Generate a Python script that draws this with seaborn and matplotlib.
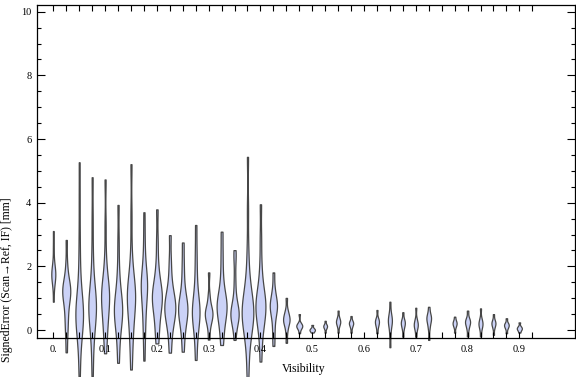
import numpy as np
import pandas as pd
import seaborn as sns
import matplotlib.pyplot as plt
from matplotlib.ticker import FixedLocator

# Visibility bins (0.6 and 0.75 have no data)
visibility = [0.0, 0.025, 0.05, 0.075, 0.1, 0.125, 0.15, 0.175, 0.2, 0.225, 0.25, 0.275,
              0.3, 0.325, 0.35, 0.375, 0.4, 0.425, 0.45, 0.475, 0.5, 0.525, 0.55, 0.575,
              0.625, 0.65, 0.675, 0.7, 0.725, 0.775, 0.8, 0.825, 0.85, 0.875, 0.9]

# signed error samples [mm] per visibility bin
e_000 = [0.89, 1.35, 1.55, 1.65, 1.72, 1.78, 1.84, 1.95, 2.15, 2.6, 3.11]
e_025 = [-0.70, -0.15, 0.15, 0.4, 0.65, 0.85, 1.0, 1.1, 1.2, 1.25, 1.3, 1.4, 1.5, 1.7, 2.1, 2.83]
e_050 = [-1.47, -0.8, -0.3, -0.05, 0.1, 0.25, 0.35, 0.45, 0.5, 0.6, 0.7, 0.8, 0.95, 1.2, 1.6, 2.2, 3.0, 4.1, 5.27]
e_075 = [-1.45, -0.7, -0.2, 0.1, 0.3, 0.45, 0.6, 0.7, 0.8, 0.9, 1.0, 1.15, 1.4, 1.8, 2.5, 3.5, 4.80]
e_100 = [-0.73, -0.3, 0.0, 0.25, 0.45, 0.65, 0.8, 0.95, 1.05, 1.15, 1.25, 1.35, 1.5, 1.8, 2.3, 3.3, 4.73]
e_125 = [-1.03, -0.5, -0.1, 0.15, 0.3, 0.45, 0.55, 0.65, 0.75, 0.85, 1.0, 1.2, 1.5, 2.0, 2.8, 3.93]
e_150 = [-1.24, -0.6, -0.2, 0.15, 0.4, 0.6, 0.8, 0.95, 1.05, 1.15, 1.25, 1.35, 1.5, 1.8, 2.4, 3.6, 5.21]
e_175 = [-0.96, -0.3, 0.1, 0.45, 0.75, 0.95, 1.15, 1.3, 1.4, 1.5, 1.6, 1.75, 2.0, 2.4, 3.0, 3.70]
e_200 = [-0.42, -0.1, 0.2, 0.45, 0.65, 0.8, 0.9, 1.0, 1.1, 1.2, 1.3, 1.45, 1.7, 2.1, 2.8, 3.79]
e_225 = [-0.71, -0.25, 0.05, 0.25, 0.4, 0.5, 0.6, 0.7, 0.8, 0.9, 1.0, 1.15, 1.35, 1.7, 2.2, 2.98]
e_250 = [-0.68, -0.2, 0.1, 0.3, 0.45, 0.55, 0.65, 0.75, 0.85, 1.0, 1.2, 1.6, 2.1, 2.75]
e_275 = [-0.94, -0.35, 0.0, 0.25, 0.4, 0.5, 0.6, 0.7, 0.85, 1.05, 1.4, 1.9, 2.5, 3.30]
e_300 = [-0.30, 0.1, 0.28, 0.4, 0.47, 0.52, 0.57, 0.65, 0.8, 1.1, 1.81]
e_325 = [-0.47, -0.1, 0.2, 0.4, 0.55, 0.65, 0.75, 0.85, 0.95, 1.1, 1.35, 1.8, 2.4, 3.09]
e_350 = [-0.31, 0.1, 0.3, 0.4, 0.47, 0.52, 0.57, 0.65, 0.8, 1.1, 1.6, 2.25, 2.51]
e_375 = [-1.52, -0.9, -0.4, -0.15, 0.05, 0.2, 0.3, 0.4, 0.5, 0.55, 0.6, 0.7, 0.8, 0.9, 1.05, 1.25, 1.5, 1.9, 2.6, 3.8, 5.44]
e_400 = [-0.99, -0.4, 0.0, 0.2, 0.35, 0.5, 0.6, 0.7, 0.8, 0.9, 1.0, 1.1, 1.3, 1.6, 2.1, 2.9, 3.95]
e_425 = [-0.50, -0.1, 0.25, 0.5, 0.65, 0.72, 0.8, 0.9, 1.05, 1.3, 1.81]
e_450 = [-0.40, -0.05, 0.15, 0.25, 0.3, 0.34, 0.4, 0.5, 0.62, 1.01]
e_475 = [-0.10, 0.04, 0.09, 0.12, 0.14, 0.17, 0.22, 0.50]
e_500 = [-0.08, -0.04, -0.01, 0.01, 0.03, 0.07, 0.16]
e_525 = [-0.08, 0.04, 0.09, 0.12, 0.14, 0.18, 0.29]
e_550 = [-0.08, 0.1, 0.18, 0.23, 0.26, 0.29, 0.34, 0.42, 0.61]
e_575 = [-0.08, 0.07, 0.15, 0.19, 0.22, 0.25, 0.3, 0.44]
e_625 = [-0.10, 0.08, 0.17, 0.23, 0.27, 0.31, 0.38, 0.63]
e_650 = [-0.54, -0.15, 0.1, 0.22, 0.28, 0.33, 0.4, 0.55, 0.89]
e_675 = [-0.21, 0.02, 0.13, 0.19, 0.23, 0.28, 0.35, 0.56]
e_700 = [-0.21, 0.0, 0.1, 0.15, 0.19, 0.25, 0.36, 0.70]
e_725 = [-0.31, 0.05, 0.22, 0.32, 0.37, 0.42, 0.5, 0.73]
e_775 = [-0.08, 0.08, 0.15, 0.19, 0.22, 0.26, 0.31, 0.42]
e_800 = [-0.20, 0.03, 0.15, 0.22, 0.26, 0.3, 0.38, 0.61]
e_825 = [-0.20, 0.02, 0.12, 0.18, 0.22, 0.27, 0.38, 0.68]
e_850 = [-0.15, 0.05, 0.14, 0.19, 0.22, 0.26, 0.33, 0.50]
e_875 = [-0.10, 0.05, 0.11, 0.15, 0.18, 0.22, 0.37]
e_900 = [-0.08, -0.01, 0.03, 0.05, 0.08, 0.12, 0.24]

signed_error = [e_000, e_025, e_050, e_075, e_100, e_125, e_150, e_175, e_200, e_225,
                e_250, e_275, e_300, e_325, e_350, e_375, e_400, e_425, e_450, e_475,
                e_500, e_525, e_550, e_575, e_625, e_650, e_675, e_700, e_725, e_775,
                e_800, e_825, e_850, e_875, e_900]

# relative violin width (fraction of bin spacing), as seen in the chart
rel_width = [0.31, 0.62, 0.59, 0.59, 0.62, 0.64, 0.64, 0.49, 0.77, 0.85, 0.72, 0.59,
             0.59, 0.77, 0.64, 0.90, 0.77, 0.56, 0.50, 0.46, 0.42, 0.29, 0.33, 0.33,
             0.31, 0.31, 0.31, 0.31, 0.36, 0.31, 0.39, 0.31, 0.31, 0.36, 0.39]

xtick_labels = ["0.", "0.1", "0.2", "0.3", "0.4", "0.5", "0.6", "0.7", "0.8", "0.9"]

# long-form table
df = pd.DataFrame({
    "Visibility": np.repeat(visibility, [len(s) for s in signed_error]),
    "SignedError": np.concatenate(signed_error),
})

plt.rcParams["font.family"] = ["Liberation Serif", "DejaVu Serif"]

fig = plt.figure(figsize=(5.76, 3.77), dpi=100)
ax = fig.add_axes([37 / 576, 39 / 377, 538 / 576, 333 / 377])

spacing = 0.025
for v, w in zip(visibility, rel_width):
    sns.violinplot(data=df[df["Visibility"] == v], x="Visibility", y="SignedError",
                   native_scale=True, density_norm="width", width=w * spacing,
                   cut=0, bw_adjust=0.6, inner=None, color="#cbd2f7", saturation=1,
                   linecolor="#474747", linewidth=0.9, ax=ax)

# violins hang below the frame in the original
for c in ax.collections:
    c.set_clip_on(False)

ax.set_xlim(-0.0315, 1.0075)
ax.set_ylim(-0.25, 10.21)

ax.xaxis.set_major_locator(FixedLocator(np.arange(0, 0.95, 0.1)))
ax.xaxis.set_minor_locator(FixedLocator(np.arange(0, 0.93, 0.025)))
ax.set_xticklabels(xtick_labels)
ax.yaxis.set_major_locator(FixedLocator(np.arange(0, 10.5, 2)))
ax.yaxis.set_minor_locator(FixedLocator(np.arange(0, 10.3, 0.5)))
ax.set_yticklabels(["0", "2", "4", "6", "8", "10"])

ax.tick_params(which="both", direction="in", top=True, right=True, width=0.8, colors="black",
               labelsize=7.5)
ax.tick_params(axis="x", which="both", length=4, pad=5)
ax.tick_params(axis="y", which="major", length=5.5, pad=4)
ax.tick_params(axis="y", which="minor", length=3)
for s in ax.spines.values():
    s.set_linewidth(0.9)

ax.set_xlabel("Visibility", fontsize=8.5)
ax.set_ylabel("SignedError (Scan\u2192Ref, IF) [mm]", fontsize=8.5)
ax.xaxis.set_label_coords(0.496, -0.075)
ax.yaxis.set_label_coords(-0.045, 0.174)

fig.savefig("out.png", dpi=100)
